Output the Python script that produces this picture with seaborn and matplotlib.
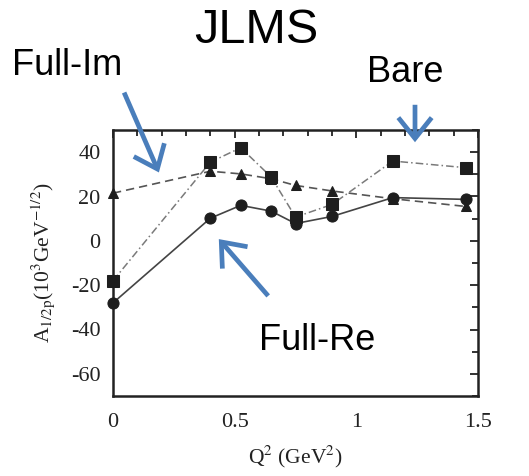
import matplotlib
matplotlib.use("Agg")
import matplotlib.pyplot as plt
from matplotlib.patches import FancyArrowPatch
from matplotlib.ticker import MultipleLocator
import seaborn as sns
import pandas as pd

# ---- data ----
q2 = [0.0, 0.4, 0.525, 0.65, 0.75, 0.9, 1.15, 1.45]
full_re = [-28.0, 10.2, 16.0, 13.4, 7.8, 11.0, 19.5, 18.7]
bare = [-18.0, 35.5, 42.0, 28.8, 10.7, 16.4, 36.0, 33.0]
full_im = [21.5, 31.4, 30.2, 28.0, 25.0, 22.5, 19.0, 15.5]

title = "JLMS"
lab_im, lab_bare, lab_re = "Full-Im", "Bare", "Full-Re"
xticks = [0, 0.5, 1, 1.5]
xticklabels = ["0", "0.5", "1", "1.5"]
yticks = [-60, -40, -20, 0, 20, 40]

sns.set_style("white")
plt.rcParams["font.family"] = ["Liberation Serif", "DejaVu Serif"]
plt.rcParams["mathtext.fontset"] = "stix"
plt.rcParams["axes.unicode_minus"] = False
plt.rcParams["text.color"] = "black"

W, H = 529, 476
fig = plt.figure(figsize=(W / 100, H / 100), dpi=100)
ax = fig.add_axes([113 / W, 1 - 396 / H, (478 - 113) / W, (396 - 130) / H])

df = pd.DataFrame({"q2": q2, "re": full_re, "bare": bare, "im": full_im})

common = dict(markerfacecolor="#1e1e1e", markeredgecolor="#1e1e1e", clip_on=False)
sns.lineplot(data=df, x="q2", y="im", ax=ax, color="#555555", lw=1.2,
             linestyle=(0, (5, 3)), marker="^", markersize=7.5, zorder=3, **common)
sns.lineplot(data=df, x="q2", y="re", ax=ax, color="#444444", lw=1.2,
             linestyle="-", marker="o", markersize=8, zorder=4, **common)
sns.lineplot(data=df, x="q2", y="bare", ax=ax, color="#7a7a7a", lw=1.1,
             linestyle=(0, (5, 2, 1, 2)), marker="s", markersize=9, zorder=5, **common)

ax.set_xlim(0, 1.5)
ax.set_ylim(-70, 50)
ax.set_xticks(xticks)
ax.set_xticklabels(xticklabels)
ax.set_yticks(yticks)
ax.xaxis.set_minor_locator(MultipleLocator(0.1))
ax.yaxis.set_minor_locator(MultipleLocator(10))
ax.tick_params(which="both", direction="in", top=True, right=True,
               colors="#222222", labelcolor="#222222", labelsize=16, width=1.3)
ax.tick_params(which="major", length=6)
ax.tick_params(axis="x", which="major", pad=12)
ax.tick_params(axis="y", which="major", pad=9)
ax.tick_params(which="minor", length=4)
for s in ax.spines.values():
    s.set_linewidth(1.8)
    s.set_color("#222222")

ax.set_xlabel(r"Q$^2$ (GeV$^2$)", fontsize=15.5, color="#222222", labelpad=9)
ax.set_ylabel(r"A$_{1/2\mathrm{p}}$(10$^3$GeV$^{-1/2}$)", fontsize=15.5,
              color="#222222", labelpad=10)

# ---- annotations (figure pixel coords, from top) ----
def fp(x, y):
    return (x / W, 1 - y / H)

sans = ["Liberation Sans", "DejaVu Sans"]
fig.text(*fp(256, 43), title, fontsize=35, family=sans, ha="center", va="baseline", color="black")
fig.text(*fp(12, 75), lab_im, fontsize=26, family=sans, ha="left", va="baseline", color="black")
fig.text(*fp(367, 82), lab_bare, fontsize=26, family=sans, ha="left", va="baseline", color="black")
fig.text(*fp(259, 350), lab_re, fontsize=26, family=sans, ha="left", va="baseline", color="black")

blue = "#4a7ebb"
for tail, tip in [((123, 90), (160, 175)), ((415, 102), (415, 145)),
                  ((270, 298), (217, 237))]:
    arr = FancyArrowPatch(fp(*tail), fp(*tip), transform=fig.transFigure,
                          arrowstyle="->,head_length=0.75,head_width=0.6",
                          mutation_scale=20, lw=3.4, color=blue,
                          capstyle="butt", joinstyle="miter", zorder=10)
    fig.add_artist(arr)

fig.savefig("out.png", dpi=100)
